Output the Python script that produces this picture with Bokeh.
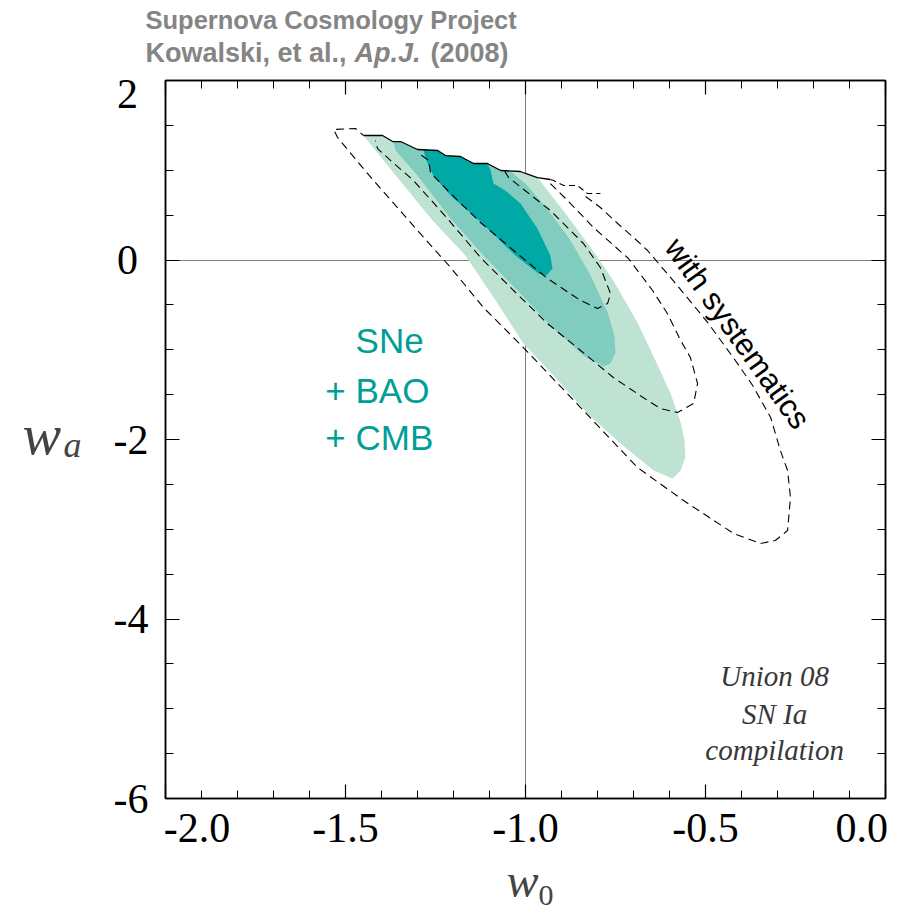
from bokeh.plotting import figure
from bokeh.layouts import column, row
from bokeh.models import LinearAxis, FixedTicker, Label, Range1d, Grid
from bokeh.embed import file_html
from bokeh.resources import INLINE

# ---------------- data (w0, wa) ----------------
# jagged prior boundary (top edge of all contours)
edge_w0 = [-1.450, -1.397, -1.369, -1.347, -1.300, -1.244, -1.222, -1.181, -1.144,
           -1.106, -1.069, -1.014, -1.000, -0.967, -0.931]
edge_wa = [1.387, 1.387, 1.320, 1.320, 1.231, 1.220, 1.164, 1.153, 1.075,
           1.075, 0.997, 0.986, 0.964, 0.919, 0.897]
edge_tail_w0 = [-0.931, -0.922, -0.894, -0.856, -0.828, -0.792]
edge_tail_wa = [0.897, 0.886, 0.830, 0.830, 0.741, 0.741]

# 99.7% (light) contour, SNe+BAO+CMB
c3_w0 = [-1.450, -1.397, -1.369, -1.347, -1.300, -1.244, -1.222, -1.181, -1.144, -1.106,
         -1.069, -1.014, -1.000, -0.967, -0.958, -0.889, -0.819, -0.756, -0.689, -0.639,
         -0.597, -0.569, -0.558, -0.556, -0.569, -0.592, -0.644, -0.736, -0.828, -0.922,
         -1.006, -1.083, -1.167, -1.258, -1.356]
c3_wa = [1.387, 1.387, 1.320, 1.320, 1.231, 1.220, 1.164, 1.153, 1.075, 1.075,
         0.997, 0.986, 0.964, 0.919, 0.875, 0.518, 0.139, -0.228, -0.696, -1.120,
         -1.487, -1.811, -2.011, -2.201, -2.345, -2.434, -2.345, -2.045, -1.710, -1.287,
         -0.930, -0.451, 0.050, 0.440, 0.919]

# 95% (medium) contour
c2_w0 = [-1.367, -1.347, -1.300, -1.244, -1.222, -1.181, -1.144, -1.106, -1.069, -1.042,
         -1.000, -0.936, -0.875, -0.819, -0.772, -0.753, -0.750, -0.764, -0.783, -0.839,
         -0.931, -1.022, -1.117, -1.208, -1.300, -1.361]
c2_wa = [1.320, 1.320, 1.231, 1.220, 1.164, 1.153, 1.075, 1.075, 0.997, 0.990,
         0.852, 0.552, 0.217, -0.173, -0.585, -0.841, -1.031, -1.153, -1.187, -1.064,
         -0.730, -0.340, 0.050, 0.462, 0.941, 1.220]

# 68% (dark) contour
c1_w0 = [-1.283, -1.244, -1.222, -1.181, -1.144, -1.106, -1.097, -1.089, -1.056, -1.014,
         -0.967, -0.931, -0.925, -0.942, -0.964, -1.028, -1.117, -1.208, -1.256, -1.278]
c1_wa = [1.228, 1.220, 1.164, 1.153, 1.075, 1.075, 0.997, 0.852, 0.774, 0.630,
         0.351, 0.050, -0.095, -0.173, -0.150, 0.050, 0.396, 0.719, 0.941, 1.131]

# with systematics (dashed) contours
s1_w0 = [-1.058, -1.047, -0.931, -0.839, -0.792, -0.764, -0.772, -0.800, -0.847, -0.939,
         -1.033, -1.125, -1.208, -1.264, -1.269, -1.300]
s1_wa = [0.990, 0.919, 0.552, 0.184, -0.084, -0.373, -0.485, -0.540, -0.451, -0.206,
         0.106, 0.418, 0.741, 0.975, 1.109, 1.198]

s2_w0 = [-0.931, -0.883, -0.811, -0.714, -0.647, -0.606, -0.569, -0.542, -0.522, -0.533,
         -0.578, -0.625, -0.661, -0.756, -0.847, -0.939, -1.033, -1.125, -1.217, -1.311,
         -1.375, -1.411, -1.417]
s2_wa = [0.852, 0.663, 0.362, 0.017, -0.340, -0.596, -0.897, -1.086, -1.376, -1.599,
         -1.699, -1.655, -1.565, -1.309, -1.008, -0.708, -0.340, 0.028, 0.462, 0.886,
         1.109, 1.242, 1.331]

s3_w0 = [-0.833, -0.792, -0.744, -0.700, -0.661, -0.583, -0.494, -0.417, -0.369, -0.319,
         -0.292, -0.272, -0.264, -0.272, -0.306, -0.347, -0.422, -0.561, -0.689, -0.839,
         -1.006, -1.117, -1.208, -1.300, -1.439, -1.522, -1.533, -1.472, -1.450]
s3_wa = [0.708, 0.585, 0.407, 0.251, 0.106, -0.262, -0.696, -1.120, -1.398, -1.755,
         -2.123, -2.345, -2.647, -3.014, -3.125, -3.159, -3.047, -2.680, -2.312, -1.677,
         -0.975, -0.529, -0.084, 0.329, 0.964, 1.365, 1.454, 1.465, 1.387]

# ticks
NB = "\u00a0"
x_ticks = [-2.0, -1.5, -1.0, -0.5, 0.0]
x_minor = [-1.9, -1.8, -1.7, -1.6, -1.4, -1.3, -1.2, -1.1, -0.9, -0.8, -0.7, -0.6,
           -0.4, -0.3, -0.2, -0.1]
y_ticks = [2, 0, -2, -4, -6]
y_minor = [1.5, 1.0, 0.5, -0.5, -1.0, -1.5, -2.5, -3.0, -3.5, -4.5, -5.0, -5.5]
x_tick_labels = {-2.0: NB * 6 + "-2.0", -1.5: "-1.5", -1.0: "-1.0", -0.5: "-0.5",
                 0.0: "0.0" + NB * 3}
y_tick_labels = {2: "2" + NB, 0: "0" + NB, -2: "-2", -4: "-4", -6: "-6"}

# colours / fonts
LIGHT = "#bee3d3"
MEDIUM = "#80ccbe"
DARK = "#00a8a6"
TEAL_TEXT = "#009e98"
GREY_TITLE = "#858585"
SERIF = "Liberation Serif"
SANS = "Liberation Sans"

# layout geometry (pixels): header / left strip / main plot / footer
HEAD_H = 70
LEFT_W = 95
MAIN_W = 824
BOTTOM_B = 55
MAIN_H = 10 + 718 + BOTTOM_B
FOOT_H = 912 - HEAD_H - MAIN_H


def blank_fig(w, h, xr, yr):
    f = figure(width=w, height=h, x_range=Range1d(*xr), y_range=Range1d(*yr),
               output_backend="svg", toolbar_location=None, title=None,
               x_axis_type=None, y_axis_type=None, min_border=0)
    f.outline_line_color = None
    f.grid.visible = False
    return f


# ---------------- main figure ----------------
p = figure(width=MAIN_W, height=MAIN_H, x_range=Range1d(-2, 0), y_range=Range1d(-6, 2),
           output_backend="svg", toolbar_location=None, title=None,
           x_axis_type=None, y_axis_type=None,
           min_border_left=70, min_border_right=MAIN_W - 70 - 720, min_border_top=10,
           min_border_bottom=BOTTOM_B)
p.outline_line_color = "black"
p.outline_line_width = 1.5


def make_axis(ticks, minor, labels=None):
    ax = LinearAxis(ticker=FixedTicker(ticks=ticks, minor_ticks=minor))
    ax.major_tick_in = 14
    ax.major_tick_out = 0
    ax.minor_tick_in = 8
    ax.minor_tick_out = 0
    ax.axis_line_color = "black"
    ax.axis_line_width = 1.5
    ax.major_tick_line_color = "black"
    ax.major_tick_line_width = 1.2
    ax.minor_tick_line_color = "black"
    ax.minor_tick_line_width = 1.0
    if labels is None:
        ax.major_label_text_font_size = "0px"
        ax.major_label_text_color = None
        ax.major_label_standoff = 0
    else:
        ax.major_label_overrides = labels
        ax.major_label_text_font = SERIF
        ax.major_label_text_font_size = "42px"
        ax.major_label_text_color = "black"
    return ax


xb = make_axis(x_ticks, x_minor, x_tick_labels)
xb.major_label_standoff = 6
yl = make_axis(y_ticks, y_minor, y_tick_labels)
yl.major_label_standoff = 17
xt = make_axis(x_ticks, x_minor)
yr = make_axis(y_ticks, y_minor)
p.add_layout(xb, "below")
p.add_layout(yl, "left")
p.add_layout(xt, "above")
p.add_layout(yr, "right")

# reference lines w0 = -1, wa = 0
p.add_layout(Grid(dimension=0, ticker=FixedTicker(ticks=[-1.0]), grid_line_color="#808080",
                  grid_line_width=1))
p.add_layout(Grid(dimension=1, ticker=FixedTicker(ticks=[0.0]), grid_line_color="#808080",
                  grid_line_width=1))

# filled contours
p.patch(c3_w0, c3_wa, fill_color=LIGHT, line_color=None)
p.patch(c2_w0, c2_wa, fill_color=MEDIUM, line_color=None)
p.patch(c1_w0, c1_wa, fill_color=DARK, line_color=None)

# dashed systematics contours
for xs, ys in [(s1_w0, s1_wa), (s2_w0, s2_wa), (s3_w0, s3_wa)]:
    p.line(xs, ys, line_color="black", line_width=1.1, line_dash="8 5")
p.line(edge_tail_w0, edge_tail_wa, line_color="black", line_width=1.1, line_dash="6 4")
p.line(edge_w0, edge_wa, line_color="black", line_width=1.3)


def lab(fig, x, y, text, **kw):
    fig.add_layout(Label(x=x, y=y, text=text, text_baseline="middle", **kw))


lab(p, -1.472, -0.897, "SNe", text_font=SANS, text_font_size="35px", text_color=TEAL_TEXT)
lab(p, -1.556, -1.454, "+ BAO", text_font=SANS, text_font_size="35px", text_color=TEAL_TEXT)
lab(p, -1.556, -1.978, "+ CMB", text_font=SANS, text_font_size="35px", text_color=TEAL_TEXT)

lab(p, -0.411, -0.819, "with systematics", text_font=SANS, text_font_size="31px",
    text_color="black", text_align="center", angle=-0.951)

for yy, t in [(-4.630, "Union 08"), (-5.053, "SN Ia"), (-5.465, "compilation")]:
    lab(p, -0.308, yy, t, text_font=SERIF, text_font_size="29px", text_font_style="italic",
        text_color="#383838", text_align="center")

# ---------------- header (page pixel coordinates) ----------------
head = blank_fig(LEFT_W + MAIN_W, HEAD_H, (0, LEFT_W + MAIN_W), (HEAD_H, 0))
lab(head, 145, 19.5, "Supernova Cosmology Project", text_font=SANS, text_font_size="25.5px",
    text_font_style="bold", text_color=GREY_TITLE)
lab(head, 145, 52, "Kowalski, et al.,", text_font=SANS, text_font_size="27px",
    text_font_style="bold", text_color=GREY_TITLE)
lab(head, 354, 52, "Ap.J.", text_font=SANS, text_font_size="27px",
    text_font_style="bold italic", text_color=GREY_TITLE)
lab(head, 430, 52, "(2008)", text_font=SANS, text_font_size="27px",
    text_font_style="bold", text_color=GREY_TITLE)

# ---------------- left strip: w_a ----------------
left = blank_fig(LEFT_W, MAIN_H, (0, LEFT_W), (HEAD_H + MAIN_H, HEAD_H))
lab(left, 22, 456, "w", text_font=SERIF, text_font_size="58px", text_font_style="italic")
lab(left, 63, 468, "a", text_font=SERIF, text_font_size="36px", text_font_style="italic")

# ---------------- footer: w_0 ----------------
TOP_F = HEAD_H + MAIN_H
foot = blank_fig(LEFT_W + MAIN_W, FOOT_H, (0, LEFT_W + MAIN_W), (TOP_F + FOOT_H, TOP_F))
lab(foot, 506, 879.5, "w", text_font=SERIF, text_font_size="48px", text_font_style="italic")
lab(foot, 538, 894.5, "0", text_font=SERIF, text_font_size="30px")

layout = column(head, row(left, p), foot)
open("out.html", "w").write(file_html(layout, INLINE))
